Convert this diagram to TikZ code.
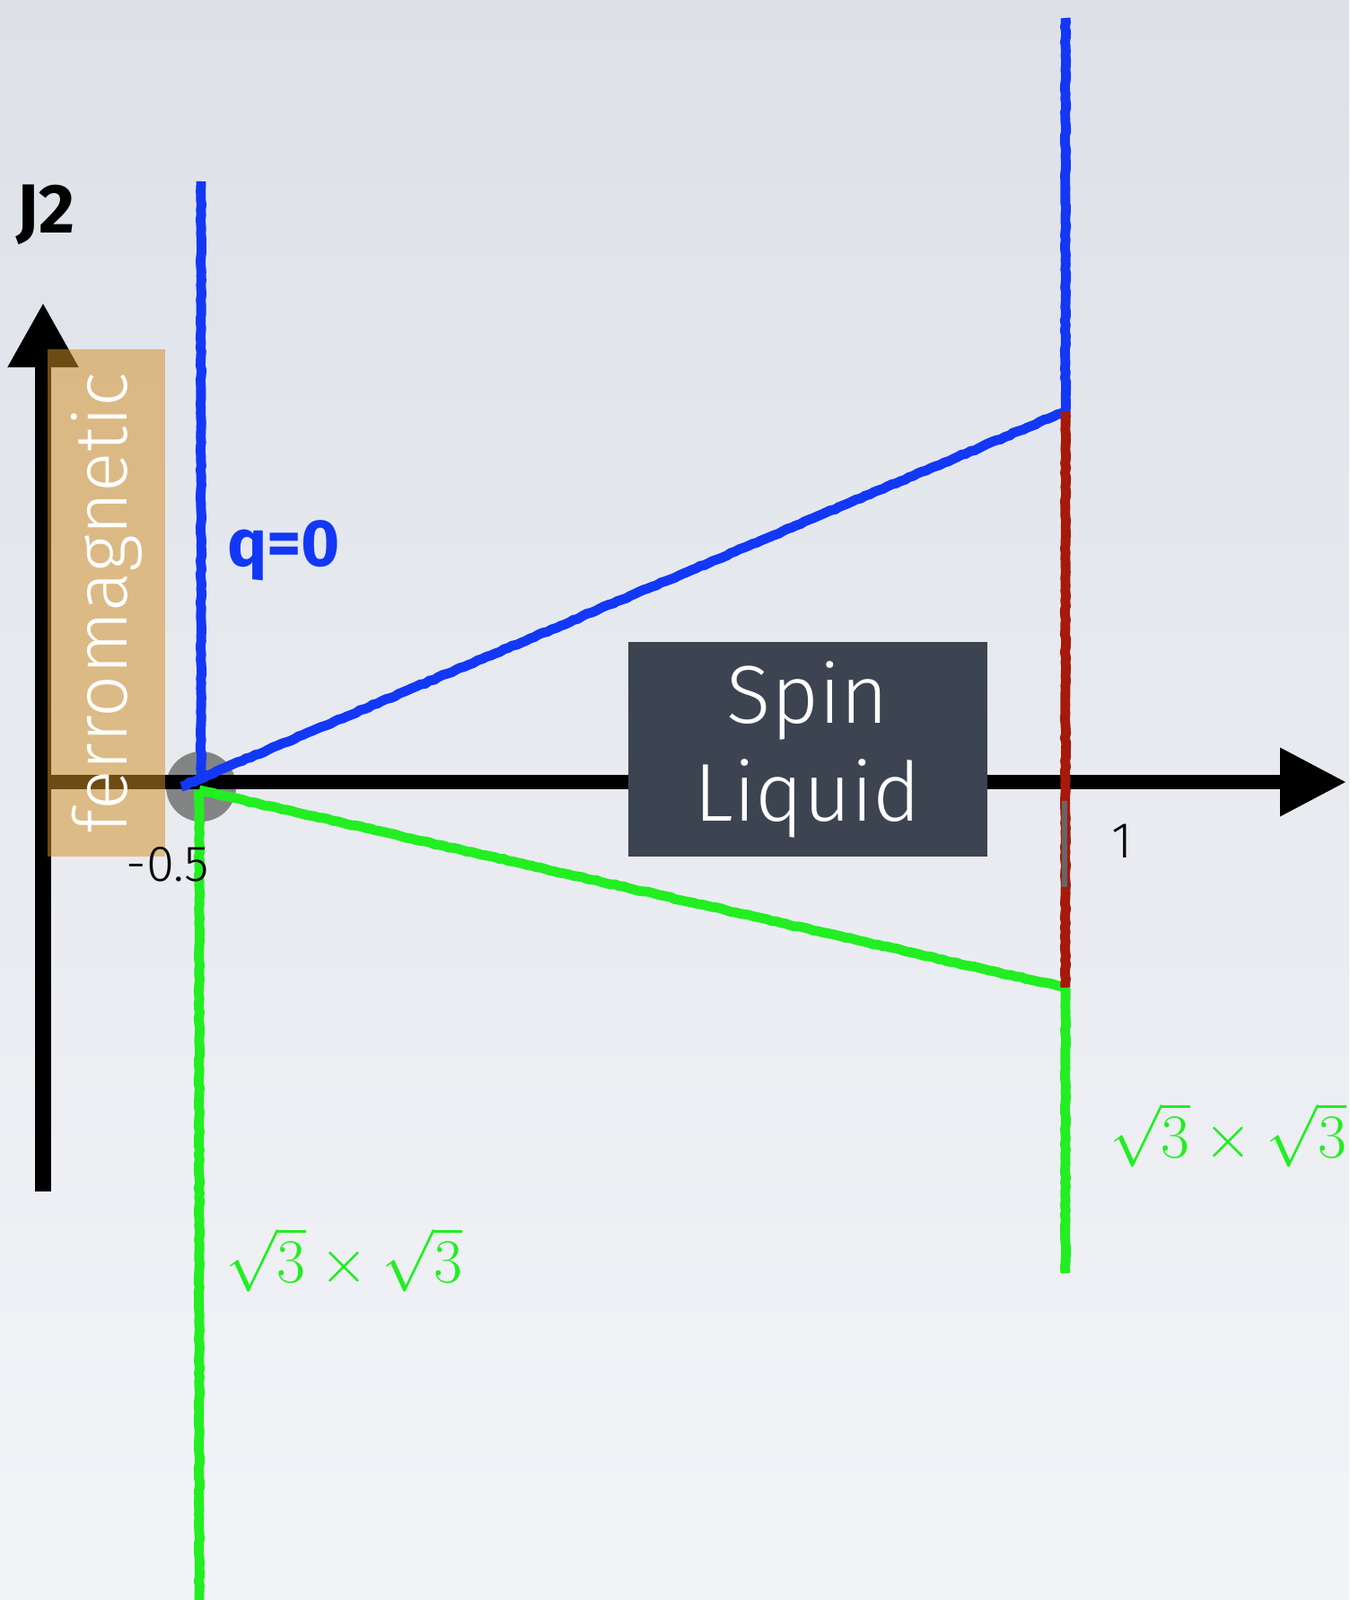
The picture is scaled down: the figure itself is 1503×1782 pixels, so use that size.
\RequirePackage{fix-cm}
\documentclass[tikz,border=0pt]{standalone}
\usepackage{fontspec}
\setmainfont{Fira Sans}[UprightFont=* Light, BoldFont=* Bold]
\usepackage{tikz}
\usetikzlibrary{arrows.meta,positioning,decorations.pathmorphing}

\definecolor{bgtop}{HTML}{DDE1E7}
\definecolor{bgbot}{HTML}{F3F4F8}
\definecolor{chalkblue}{HTML}{1238F5}
\definecolor{chalkgreen}{HTML}{22EE22}
\definecolor{chalkred}{HTML}{A51A0A}
\definecolor{ferrotan}{HTML}{D39026}
\definecolor{slate}{HTML}{3D4451}

\begin{document}
\begin{tikzpicture}[
    x=0.01cm, y=-0.01cm,
    axis/.style={
        line width=#1,
        draw=black
    },
    chalk/.style={
        line width=3.1pt,
        draw=#1,
        decorate,
        decoration={random steps,segment length=1.5pt,amplitude=0.2pt}
    },
    phase box/.style={
        rectangle,
        fill=#1,
        inner sep=0pt,
        align=center
    },
    phase label/.style={
        font=\fontsize{21}{24}\selectfont\bfseries,
        text=#1
    },
    tick label/.style={
        font=\fontsize{16}{19}\selectfont,
        text=black
    },
    order label/.style={
        font=\fontsize{19.7}{23}\selectfont,
        text=chalkgreen
    }
]

% Background
\useasboundingbox (0,0) rectangle (1503,1782);
\shade[top color=bgtop, bottom color=bgbot] (0,0) rectangle (1503,1782);

% Key points
\coordinate (ybot)   at (48,1327);
\coordinate (ytop)   at (48,337);
\coordinate (xleft)  at (40,871);
\coordinate (xright) at (1500,871);
\coordinate (qtop)   at (224,202);
\coordinate (qbot)   at (224,871);
\coordinate (corner) at (202,876);
\coordinate (ltop)   at (222,880);
\coordinate (lbot)   at (222,1782);
\coordinate (rtop)   at (1187,20);
\coordinate (rblue)  at (1187,458);
\coordinate (rgreen) at (1187,1100);
\coordinate (rbot)   at (1187,1418);
\coordinate (tickt)  at (1186,892);
\coordinate (tickb)  at (1186,988);

% Critical point
\node[circle, fill=gray!95!black, opacity=0.9, minimum size=0.78cm, inner sep=0pt] (crit) at (224,876) {};

% Axes
\draw[axis=5.1pt, -{Triangle[length=20.5pt,width=21pt]}] (ybot) -- (ytop);
\draw[axis=4.5pt, -{Triangle[length=21pt,width=20.5pt]}] (xleft) -- (xright);
\node[font=\fontsize{22}{26}\selectfont\bfseries] (jtwo) at (51,239) {J2};

% Ferromagnetic region
\node[phase box=ferrotan, fill opacity=0.52, text opacity=1, rotate=90,
      minimum width=5.65cm, minimum height=1.31cm,
      font=\fontsize{23.5}{28}\selectfont, text=white] (ferro) at (118.5,671.5) {ferromagnetic};

% Phase boundaries
\draw[chalk=chalkblue]  (qtop) -- (qbot);
\draw[chalk=chalkblue]  (corner) -- (rblue);
\draw[chalk=chalkgreen] (ltop) -- (lbot);
\draw[chalk=chalkgreen] (ltop) -- (rgreen);
\draw[chalk=chalkblue]  (rtop) -- (rblue);
\draw[chalk=chalkred]   (rblue) -- (rgreen);
\draw[chalk=chalkgreen] (rgreen) -- (rbot);
\draw[line width=1.6pt, gray!80!black] (tickt) -- (tickb);

% Spin liquid
\node[phase box=slate, minimum width=4cm, minimum height=2.39cm, text=white,
      font=\fontsize{26}{31}\selectfont] (liquid) at (900,834.5) {Spin\\Liquid};

% Labels
\node[phase label=chalkblue] (qzero) at (316,613) {q=0};
\node[tick label] (mhalf) at (187,963) {-0.5};
\node[tick label] (one)   at (1250,937) {1};
\node[order label] (sqleft)  at (383,1403) {$\sqrt{3}\times\sqrt{3}$};
\node[order label] (sqright) at (1368,1264) {$\sqrt{3}\times\sqrt{3}$};

\end{tikzpicture}
\end{document}
